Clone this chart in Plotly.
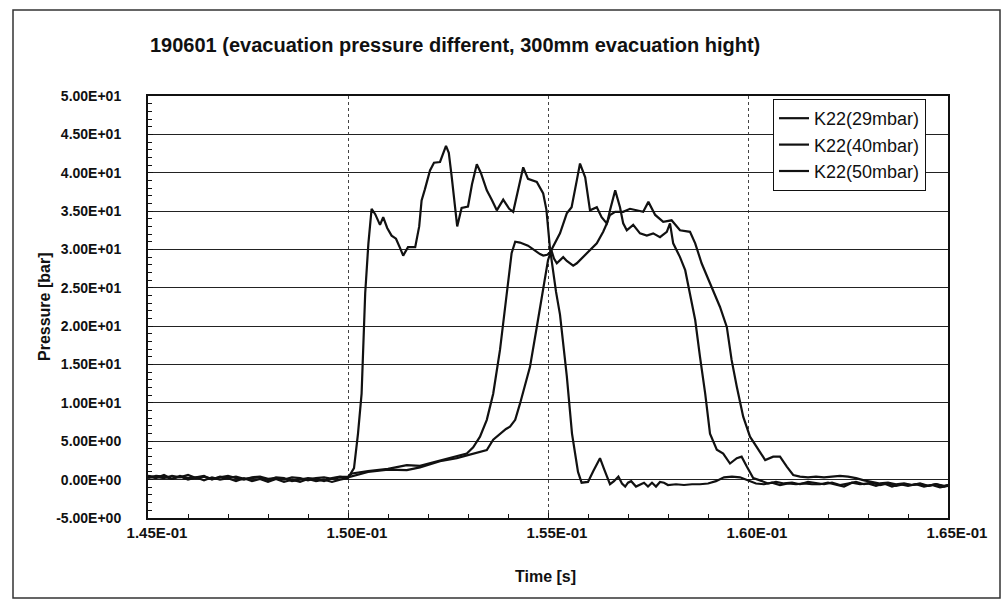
import plotly.graph_objects as go

# ---------------- data ----------------
series_names = ["K22(29mbar)", "K22(40mbar)", "K22(50mbar)"]

t_29 = [0.1450, 0.1452, 0.1454, 0.1456, 0.1458, 0.1460, 0.1462, 0.1464, 0.1466, 0.1468,
        0.1470, 0.1472, 0.1474, 0.1476, 0.1478, 0.1480, 0.1482, 0.1484, 0.1486, 0.1488,
        0.1490, 0.1492, 0.1494, 0.1496, 0.1498, 0.1500, 0.15015, 0.15025, 0.15034, 0.15043,
        0.15051, 0.15059, 0.15068, 0.15080, 0.15088, 0.15098, 0.15109, 0.15120, 0.15130, 0.15138,
        0.15150, 0.15168, 0.15178, 0.15184, 0.15192, 0.15205, 0.15215, 0.15230, 0.15245, 0.15252,
        0.15259, 0.15266, 0.15273, 0.15284, 0.15300, 0.15310, 0.15322, 0.15332, 0.15347, 0.15360,
        0.15372, 0.15388, 0.15403, 0.15413, 0.15425, 0.15438, 0.15450, 0.15472, 0.15488, 0.15496,
        0.15505, 0.15520, 0.15530, 0.15547, 0.15560, 0.15575, 0.15584, 0.15600, 0.15613, 0.15630,
        0.15640, 0.15655, 0.15665, 0.15676, 0.15685, 0.15693, 0.15700, 0.15708, 0.15720, 0.15730,
        0.15740, 0.15750, 0.15760, 0.15770, 0.15780, 0.15790, 0.15800, 0.15820, 0.15840, 0.15860,
        0.15880, 0.15900, 0.15920, 0.15940, 0.15960, 0.15980, 0.16000, 0.16020, 0.16040, 0.16060,
        0.16080, 0.16100, 0.16120, 0.16140, 0.16160, 0.16180, 0.16200, 0.16220, 0.16240, 0.16260,
        0.16280, 0.16300, 0.16320, 0.16340, 0.16360, 0.16380, 0.16400, 0.16420, 0.16440, 0.16460,
        0.16480, 0.16500]
p_29 = [0.4, 0.2, 0.6, 0.1, 0.4, 0.0, 0.3, -0.1, 0.3, 0.0,
        0.2, -0.2, 0.2, -0.2, 0.1, -0.3, 0.1, -0.3, 0.0, -0.3,
        0.1, -0.2, 0.0, -0.3, 0.0, 0.2, 1.5, 6.0, 11.2, 24.3,
        30.8, 35.3, 34.6, 33.2, 34.2, 32.8, 31.8, 31.4, 30.2, 29.2,
        30.3, 30.3, 33.0, 36.4, 37.8, 40.3, 41.3, 41.4, 43.5, 42.6,
        39.6, 36.0, 33.0, 35.4, 35.6, 38.5, 41.1, 40.0, 37.7, 36.4,
        35.1, 36.5, 35.3, 34.9, 37.6, 40.7, 39.2, 38.8, 37.3, 35.2,
        30.1, 24.5, 21.5, 13.5, 6.0, 1.0, -0.4, -0.3, 1.1, 2.8,
        1.4, -0.6, -0.2, 0.4, -0.5, -0.9, -0.4, -0.2, -0.9, -0.6,
        -0.4, -0.9, -0.4, -0.9, -0.3, -0.4, -0.7, -0.6, -0.7, -0.6,
        -0.6, -0.5, -0.2, 0.3, 0.4, 0.3, -0.1, -0.5, -0.6, -0.4,
        -0.7, -0.5, -0.6, -0.5, -0.6, -0.6, -0.4, -0.7, -0.9, -0.4,
        -0.6, -0.5, -0.8, -0.5, -0.9, -0.6, -0.8, -0.6, -0.9, -0.7,
        -1.0, -0.8]

t_40 = [0.1450, 0.1452, 0.1454, 0.1456, 0.1458, 0.1460, 0.1462, 0.1464, 0.1466, 0.1468,
        0.1470, 0.1472, 0.1474, 0.1476, 0.1478, 0.1480, 0.1482, 0.1484, 0.1486, 0.1488,
        0.1490, 0.1492, 0.1494, 0.1496, 0.1498, 0.1500, 0.1501, 0.1505, 0.1510, 0.15147,
        0.1518, 0.1523, 0.1527, 0.15297, 0.15313, 0.15330, 0.15347, 0.15363, 0.15380, 0.15388,
        0.15397, 0.15409, 0.15418, 0.15430, 0.15450, 0.15463, 0.15480, 0.15488, 0.15498, 0.15509,
        0.15515, 0.15522, 0.15530, 0.15538, 0.15547, 0.15555, 0.15563, 0.15572, 0.15580, 0.15597,
        0.15610, 0.15622, 0.15638, 0.15648, 0.15655, 0.15668, 0.15680, 0.15688, 0.15697, 0.15713,
        0.15730, 0.15747, 0.15763, 0.15780, 0.15797, 0.15805, 0.15813, 0.15830, 0.15843, 0.15855,
        0.15868, 0.15880, 0.15893, 0.15905, 0.15922, 0.15938, 0.15955, 0.15972, 0.15984, 0.15997,
        0.16013, 0.16030, 0.16050, 0.16070, 0.16090, 0.16110, 0.16130, 0.16150, 0.16170, 0.16190,
        0.16210, 0.16230, 0.16250, 0.16270, 0.16290, 0.16310, 0.16330, 0.16350, 0.16370, 0.16390,
        0.16410, 0.16430, 0.16450, 0.16470, 0.16490, 0.16500]
p_40 = [0.5, 0.3, 0.2, 0.5, 0.3, 0.6, 0.2, 0.4, 0.1, 0.3,
        0.5, 0.2, 0.0, 0.3, 0.4, 0.1, 0.2, 0.0, 0.3, 0.2,
        -0.1, 0.2, 0.3, 0.1, 0.3, 0.4, 0.8, 1.1, 1.4, 1.9,
        1.8, 2.5, 3.0, 3.4, 4.2, 5.6, 7.8, 11.2, 16.9, 20.5,
        24.3, 29.5, 31.0, 30.9, 30.5, 30.0, 29.4, 29.2, 29.3, 29.8,
        28.8, 28.2, 28.6, 29.0, 28.5, 28.2, 27.9, 28.2, 28.6, 29.5,
        30.2, 30.8, 32.3, 33.5, 35.1, 37.7, 35.5, 33.4, 32.5, 33.2,
        32.1, 31.8, 32.1, 31.6, 32.3, 33.4, 30.8, 29.0, 27.3, 24.3,
        20.8, 16.0, 11.2, 6.0, 3.9, 3.4, 2.1, 2.8, 3.0, 1.7,
        0.2, -0.1, -0.5, -0.3, -0.5, -0.4, -0.6, -0.3, -0.5, -0.6,
        -0.4, -0.7, -0.5, -0.3, -0.6, -0.4, -0.7, -0.5, -0.8, -0.6,
        -0.7, -0.5, -0.8, -0.6, -0.9, -0.7]

t_50 = [0.1450, 0.1452, 0.1454, 0.1456, 0.1458, 0.1460, 0.1462, 0.1464, 0.1466, 0.1468,
        0.1470, 0.1472, 0.1474, 0.1476, 0.1478, 0.1480, 0.1482, 0.1484, 0.1486, 0.1488,
        0.1490, 0.1492, 0.1494, 0.1496, 0.1498, 0.1500, 0.1505, 0.1510, 0.15147, 0.1518,
        0.1523, 0.15272, 0.15300, 0.15330, 0.15347, 0.15363, 0.15380, 0.15395, 0.15405, 0.15418,
        0.15430, 0.15455, 0.15472, 0.15488, 0.15500, 0.15509, 0.15530, 0.15547, 0.15559, 0.15572,
        0.15580, 0.15593, 0.15605, 0.15622, 0.15634, 0.15647, 0.15655, 0.15668, 0.15688, 0.15705,
        0.15738, 0.15751, 0.15768, 0.15788, 0.15809, 0.15830, 0.15855, 0.15868, 0.15884, 0.15905,
        0.15930, 0.15947, 0.15959, 0.15972, 0.15988, 0.16005, 0.16022, 0.16043, 0.16063, 0.16080,
        0.16097, 0.16113, 0.16130, 0.16150, 0.16170, 0.16190, 0.16210, 0.16230, 0.16250, 0.16270,
        0.16290, 0.16310, 0.16330, 0.16350, 0.16370, 0.16390, 0.16410, 0.16430, 0.16450, 0.16470,
        0.16490, 0.16500]
p_50 = [0.2, 0.5, 0.4, 0.1, 0.5, 0.2, 0.3, 0.5, 0.0, 0.4,
        0.2, 0.4, 0.1, 0.2, 0.3, -0.1, 0.3, 0.2, -0.2, 0.0,
        0.2, 0.1, -0.2, 0.2, 0.4, 0.3, 1.0, 1.3, 1.25, 1.6,
        2.4, 2.8, 3.2, 3.6, 3.85, 5.2, 6.0, 6.6, 6.9, 7.8,
        9.9, 14.7, 19.9, 25.1, 28.6, 30.0, 32.1, 34.7, 35.5, 39.0,
        41.2, 39.4, 35.1, 35.5, 34.2, 33.4, 34.5, 34.9, 34.9, 35.3,
        34.9, 36.2, 34.5, 33.6, 33.8, 32.5, 32.3, 30.8, 28.2, 25.6,
        22.5, 19.9, 15.6, 12.1, 8.2, 5.6, 4.3, 2.55, 3.0, 3.0,
        1.7, 0.6, 0.4, 0.3, 0.4, 0.3, 0.4, 0.5, 0.4, 0.2,
        -0.1, -0.3, -0.5, -0.4, -0.6, -0.5, -0.7, -0.6, -0.8, -0.6,
        -0.8, -0.7]

x_tick_vals = [0.145, 0.150, 0.155, 0.160, 0.165]
x_tick_text = ["1.45E-01", "1.50E-01", "1.55E-01", "1.60E-01", "1.65E-01"]
y_tick_vals = [-5, 0, 5, 10, 15, 20, 25, 30, 35, 40, 45, 50]
y_tick_text = ["-5.00E+00", "0.00E+00", "5.00E+00", "1.00E+01", "1.50E+01", "2.00E+01",
               "2.50E+01", "3.00E+01", "3.50E+01", "4.00E+01", "4.50E+01", "5.00E+01"]

title_text = "190601 (evacuation pressure different, 300mm evacuation hight)"
x_title = "Time [s]"
y_title = "Pressure [bar]"

# ---------------- figure ----------------
FONT = "Arial, Liberation Sans, sans-serif"
INK = "#111111"
fig = go.Figure()
for name, tx, py in [(series_names[0], t_29, p_29),
                     (series_names[1], t_40, p_40),
                     (series_names[2], t_50, p_50)]:
    fig.add_trace(go.Scatter(x=tx, y=py, mode="lines", name=name,
                             line=dict(color=INK, width=2.2)))

L, R, T, B = 148, 60, 96, 84
W, H = 1008, 602
pw, ph = W - L - R, H - T - B

def px_x(px):
    return (px - L) / pw

def px_y(py):
    return (H - B - py) / ph

fig.update_layout(
    width=W, height=H,
    margin=dict(l=L, r=R, t=T, b=B, pad=0),
    paper_bgcolor="white", plot_bgcolor="white",
    font=dict(family=FONT, color=INK),
    showlegend=True,
    legend=dict(x=px_x(773), y=px_y(99), xanchor="left", yanchor="top",
                bordercolor=INK, borderwidth=1, bgcolor="white",
                font=dict(size=18, family=FONT, color=INK),
                tracegroupgap=0),
    title=dict(text="<b>" + title_text + "</b>", x=150 / W, xanchor="left",
               xref="container", y=1 - 45 / H, yref="container", yanchor="middle",
               font=dict(size=20, family=FONT, color=INK)),
    xaxis=dict(range=[0.145, 0.165], tickvals=x_tick_vals,
               ticktext=["<b>" + s + "</b>" for s in x_tick_text],
               showgrid=True, gridcolor="#444444", griddash="dot", gridwidth=1,
               ticks="inside", ticklen=5, tickcolor=INK,
               minor=dict(dtick=0.001, ticks="inside", ticklen=4, tickcolor=INK, showgrid=False),
               showline=True, linecolor=INK, linewidth=2, mirror=True,
               zeroline=False, ticklabelstandoff=0, ticklabelshift=9,
               tickfont=dict(size=15, family=FONT, color=INK)),
    yaxis=dict(range=[-5, 50], tickvals=y_tick_vals,
               ticktext=["<b>" + s + "</b>" for s in y_tick_text],
               showgrid=True, gridcolor="#222222", gridwidth=1,
               ticks="inside", ticklen=5, tickcolor=INK,
               minor=dict(dtick=1, ticks="inside", ticklen=4, tickcolor=INK, showgrid=False),
               showline=True, linecolor=INK, linewidth=2, mirror=True,
               zeroline=False, ticklabelstandoff=22,
               tickfont=dict(size=14, family=FONT, color=INK)),
    annotations=[
        dict(text="<b>" + x_title + "</b>", xref="paper", yref="paper",
             x=px_x(545), y=px_y(576), xanchor="center", yanchor="middle",
             showarrow=False, font=dict(size=16, family=FONT, color=INK)),
        dict(text="<b>" + y_title + "</b>", xref="paper", yref="paper",
             x=px_x(44), y=px_y(307), xanchor="center", yanchor="middle",
             showarrow=False, textangle=-90,
             font=dict(size=16, family=FONT, color=INK)),
    ],
    shapes=[
        dict(type="rect", xref="paper", yref="paper",
             x0=px_x(13), x1=px_x(1000), y0=px_y(598), y1=px_y(10),
             line=dict(color="#333333", width=1.5), layer="below"),
    ],
)

fig.write_html("out.html")
